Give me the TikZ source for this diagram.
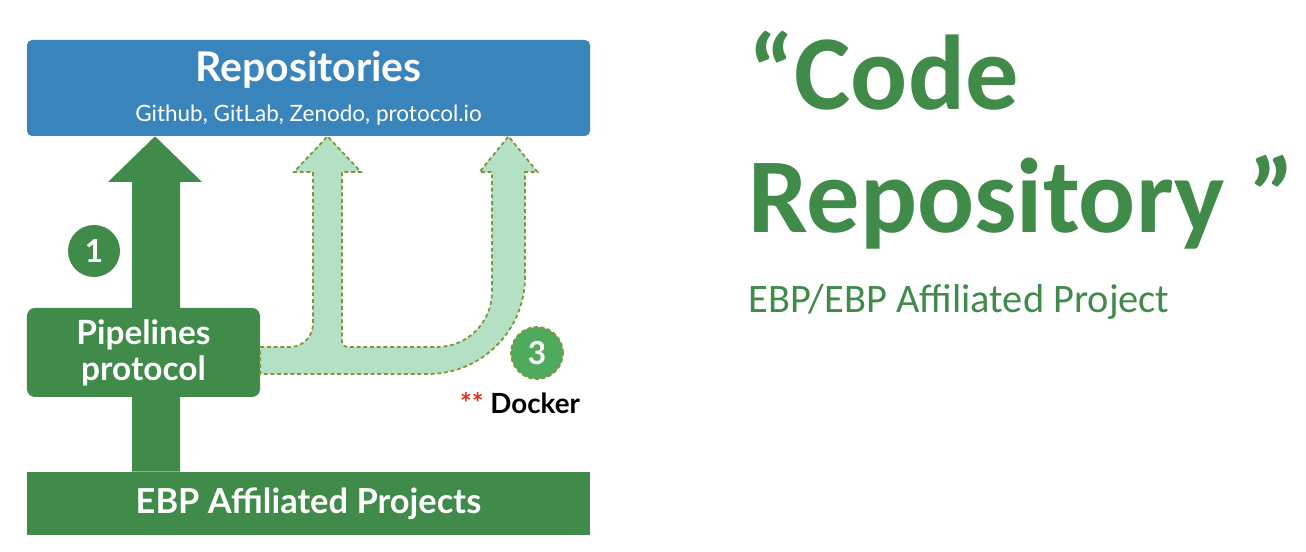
\documentclass[tikz,border=0pt]{standalone}
\usepackage{fontspec}
\setmainfont{Carlito}
\newfontfamily\diagfont{Lato}
\newfontfamily\titlefont{Carlito}
\usepackage{tikz}
\usetikzlibrary{arrows.meta,positioning,calc}
\definecolor{repoblue}{RGB}{58,132,188}
\definecolor{ebpgreen}{RGB}{64,138,74}
\definecolor{palegreen}{RGB}{180,224,198}
\definecolor{olivedash}{RGB}{125,150,55}
\definecolor{midgreen}{RGB}{78,170,92}
\definecolor{starred}{RGB}{232,40,30}

\begin{document}
\begin{tikzpicture}[every node/.style={font=\diagfont},
    greenbox/.style={fill=ebpgreen, text=white, inner sep=0pt},
    numdot/.style={circle, text=white, minimum size=1.04cm, inner sep=0pt,
      font=\diagfont\bfseries\fontsize{18}{18}\selectfont},
    dashedge/.style={draw=olivedash, line width=1pt, dash pattern=on 2.2pt off 1.6pt},
    bigtitle/.style={anchor=base west, inner sep=0pt, text=ebpgreen}]
    \useasboundingbox (0,0) rectangle (26.12,11.04);

    % boxes
    \node[fill=repoblue, rounded corners=0.1cm, text=white, minimum width=11.26cm, minimum height=1.92cm, align=center] (repo) at (6.17,9.28) {
      {\bfseries\fontsize{23.3}{24}\selectfont Repositories}\\[0.3cm]
      {\fontsize{12.8}{14}\selectfont Github, GitLab, Zenodo, protocol.io}
    };
    \node[greenbox, minimum width=11.26cm, minimum height=1.26cm, font=\diagfont\bfseries\fontsize{19.6}{20}\selectfont] (projects) at (6.17,0.97) {EBP Affiliated Projects};

    % big arrow (behind the pipelines box)
    \fill[ebpgreen] (2.64,0 |- projects.north) -- (2.64,7.4) -- (2.16,7.4) -- (3.1,0 |- repo.south)
      -- (4.04,7.4) -- (3.6,7.4) -- (3.6,0 |- projects.north) -- cycle;

    \node[greenbox, rounded corners=0.16cm, minimum width=4.66cm, minimum height=1.78cm, align=center,
      font=\diagfont\bfseries\fontsize{19}{20.5}\selectfont] (pipe) at (2.87,3.99) {Pipelines\\protocol};

    % forked pale arrows
    \path[fill=palegreen, dashedge] (pipe.east |- 0,4.1) -- (5.8,4.1) arc[start angle=-90, end angle=0, radius=0.46]
      -- (6.26,7.6) -- (5.88,7.6) -- (6.55,0 |- repo.south) -- (7.22,7.6) -- (6.84,7.6)
      -- (6.84,4.2) arc[start angle=180, end angle=270, radius=0.1]
      -- (8.74,4.1) arc[start angle=-90, end angle=0, radius=1.1]
      -- (9.84,7.6) -- (9.59,7.6) -- (10.17,0 |- repo.south) -- (10.75,7.6) -- (10.5,7.6)
      -- (10.5,5.5) arc[start angle=0, end angle=-90, radius=1.94]
      -- (pipe.east |- 0,3.56) -- cycle;

    \node[numdot, fill=ebpgreen] (one) at (1.88,6.02) {1};
    \node[numdot, fill=midgreen, dashedge] (three) at (10.74,3.98) {3};
    \node[font=\diagfont\bfseries\fontsize{15.8}{18}\selectfont] (docker) at (10.4,2.98) {\textcolor{starred}{**} Docker};

    % title text
    \node[bigtitle, font=\titlefont\bfseries\fontsize{60.5}{70}\selectfont] (code) at (14.96,8.84) {“Code};
    \node[bigtitle, font=\titlefont\bfseries\fontsize{60.5}{70}\selectfont, yshift=-2.46cm] (repoword) at (code.base west) {Repository ”};
    \node[bigtitle, font=\titlefont\fontsize{23}{26}\selectfont, yshift=-1.6cm] (ebp) at (repoword.base west) {EBP/EBP Affiliated Project};
  \end{tikzpicture}
\end{document}
